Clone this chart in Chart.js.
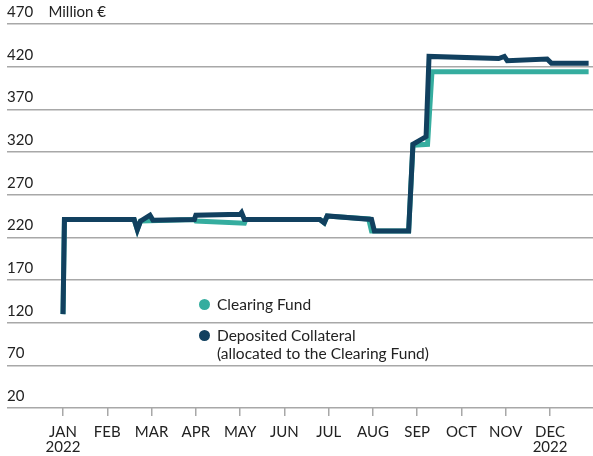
<!DOCTYPE html>
<html>
<head>
<meta charset="utf-8">
<script src="https://cdn.jsdelivr.net/npm/chart.js"></script>
<style>
  html, body { margin: 0; padding: 0; background: #fff; }
  #wrap { position: relative; width: 593px; height: 456px; }
  .legend { position: absolute; left: 199px; font-family: Lato, sans-serif; font-size: 15.5px; color: #222; line-height: 18px; }
  .legend .dot { position: absolute; left: 0; top: 3.5px; width: 11px; height: 11px; border-radius: 50%; }
  .legend .txt { display: block; padding-left: 18px; white-space: nowrap; }
</style>
</head>
<body>
<div id="wrap">
  <canvas id="chart" width="593" height="456"></canvas>
  <div class="legend" style="top:295px"><span class="dot" style="background:#35ad9f"></span><span class="txt">Clearing Fund</span></div>
  <div class="legend" style="top:326px"><span class="dot" style="background:#11405f"></span><span class="txt">Deposited Collateral<br>(allocated to the Clearing Fund)</span></div>
</div>
<script>
const months = ['JAN', 'FEB', 'MAR', 'APR', 'MAY', 'JUN', 'JUL', 'AUG', 'SEP', 'OCT', 'NOV', 'DEC'];
const yTicks = [20, 70, 120, 170, 220, 270, 320, 370, 420, 470];

// Deposited Collateral (allocated to the Clearing Fund), million €
const collateralDates = ['2022-01-01', '2022-01-02', '2022-02-18', '2022-02-20', '2022-02-22', '2022-02-28', '2022-03-02',
  '2022-03-31', '2022-04-01', '2022-05-01', '2022-05-02', '2022-05-04', '2022-06-25', '2022-06-28', '2022-06-30',
  '2022-07-31', '2022-08-02', '2022-08-26', '2022-08-29', '2022-09-05', '2022-09-07', '2022-09-09', '2022-10-27',
  '2022-10-31', '2022-11-02', '2022-11-29', '2022-12-02', '2022-12-28'];
const collateralValues = [130, 241, 241, 229, 239, 246, 240,
  241, 246, 247, 249, 241, 241, 237, 245,
  241, 227.5, 227.5, 329, 336, 338, 432, 429.5,
  432, 427, 429, 424, 424];

// Clearing Fund, million €
const clearingDates = ['2022-01-01', '2022-01-02', '2022-02-18', '2022-02-20', '2022-02-22', '2022-03-31', '2022-04-01',
  '2022-05-04', '2022-05-05', '2022-06-25', '2022-06-28', '2022-06-30', '2022-07-29', '2022-07-31', '2022-08-26',
  '2022-08-29', '2022-09-08', '2022-09-11', '2022-12-28'];
const clearingValues = [130, 241, 241, 229, 239, 241, 239,
  236.5, 241, 241, 237, 245, 241.5, 227.5, 227.5,
  328, 329, 414, 414];

// month index + fraction of the month, so months are evenly spaced like the original
function monthPos(s) {
  const [y, m, d] = s.split('-').map(Number);
  const days = new Date(y, m, 0).getDate();
  return (m - 1) + (d - 1) / days;
}
const toPoints = (dates, vals) => dates.map((d, i) => ({ x: monthPos(d), y: vals[i] }));

const font = { family: 'Lato', size: 15 };
const gridColor = '#a8a8a8';

new Chart(document.getElementById('chart'), {
  type: 'line',
  data: {
    datasets: [
      {
        label: 'Clearing Fund',
        data: toPoints(clearingDates, clearingValues),
        borderColor: '#35ad9f',
        borderWidth: 5,
        pointRadius: 0,
        borderJoinStyle: 'miter',
        order: 1
      },
      {
        label: 'Deposited Collateral (allocated to the Clearing Fund)',
        data: toPoints(collateralDates, collateralValues),
        borderColor: '#11405f',
        borderWidth: 5,
        pointRadius: 0,
        borderJoinStyle: 'miter',
        order: 0
      }
    ]
  },
  options: {
    responsive: false,
    animation: false,
    layout: { padding: { left: 7, right: 0, top: 24, bottom: 0 } },
    plugins: { legend: { display: false }, tooltip: { enabled: false } },
    scales: {
      x: {
        type: 'linear',
        min: -1.265,
        max: 11.97,
        afterBuildTicks: s => { s.ticks = months.map((m, i) => ({ value: i })); },
        afterFit: s => { s.height = 48; },
        grid: { drawOnChartArea: false, drawTicks: true, tickLength: 8, color: gridColor, lineWidth: 1.5 },
        border: { display: false },
        ticks: {
          autoSkip: false,
          maxRotation: 0,
          padding: 8,
          color: '#222',
          font: { family: 'Lato', size: 15, lineHeight: 1.05 },
          callback: v => (v === 0 || v === 11) ? [months[v], '2022'] : months[v]
        }
      },
      y: {
        min: 20,
        max: 470,
        afterBuildTicks: s => { s.ticks = yTicks.map(v => ({ value: v })); },
        grid: { drawTicks: false, color: gridColor, lineWidth: 1.5 },
        border: { display: false },
        ticks: {
          mirror: true,
          padding: 0,
          labelOffset: -12,
          color: '#222',
          font: font,
          callback: v => v === 470 ? v + '    Million €' : v
        }
      }
    }
  }
});
</script>
</body>
</html>
